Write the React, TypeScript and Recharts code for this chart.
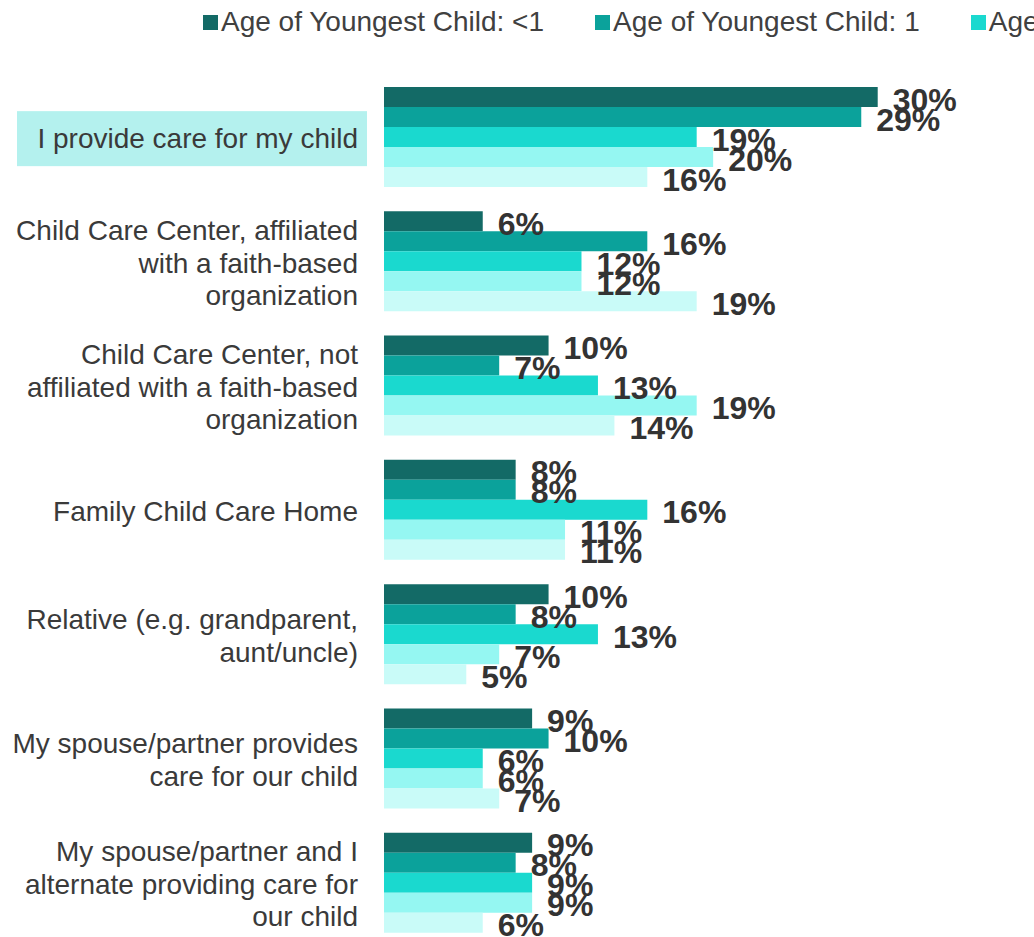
import React from "react";
import { BarChart, Bar, XAxis, YAxis, Legend, LabelList } from "recharts";

const CATEGORIES = [
  "I provide care for my child",
  "Child Care Center, affiliated\nwith a faith-based\norganization",
  "Child Care Center, not\naffiliated with a faith-based\norganization",
  "Family Child Care Home",
  "Relative (e.g. grandparent,\naunt/uncle)",
  "My spouse/partner provides\ncare for our child",
  "My spouse/partner and I\nalternate providing care for\nour child",
];

const SERIES_NAMES = [
  "Age of Youngest Child: <1",
  "Age of Youngest Child: 1",
  "Age of Youngest Child: 2",
  "Age of Youngest Child: 3",
  "Age of Youngest Child: 4",
];

const AGE_UNDER_1 = [30, 6, 10, 8, 10, 9, 9];
const AGE_1 = [29, 16, 7, 8, 8, 10, 8];
const AGE_2 = [19, 12, 13, 16, 13, 6, 9];
const AGE_3 = [20, 12, 19, 11, 7, 6, 9];
const AGE_4 = [16, 19, 14, 11, 5, 7, 6];

const SERIES_VALUES = [AGE_UNDER_1, AGE_1, AGE_2, AGE_3, AGE_4];
const COLORS = ["#136a66", "#0ba29b", "#1ad9cf", "#95f7f2", "#c9fbf8"];
const KEYS = ["s0", "s1", "s2", "s3", "s4"];

const data = CATEGORIES.map((name, i) => {
  const row: Record<string, any> = { name };
  SERIES_VALUES.forEach((vals, s) => {
    row[KEYS[s]] = vals[i];
  });
  return row;
});

const FONT = "'Liberation Sans', Arial, sans-serif";
const LINE_H = 32.5;

const CategoryTick = (props: any) => {
  const { x, y, payload } = props;
  const label: string = payload.value;
  const lines = label.split("\n");
  const y0 = y - ((lines.length - 1) * LINE_H) / 2;
  const highlighted = label === CATEGORIES[0];
  return (
    <g>
      {highlighted && (
        <rect x={x - 341} y={y - 27} width={350} height={55} fill="#b4f1ee" />
      )}
      <text
        x={x}
        y={y0}
        textAnchor="end"
        fontSize={28}
        fontFamily={FONT}
        fill="#3a3a3a"
      >
        {lines.map((ln, i) => (
          <tspan key={i} x={x} y={y0 + i * LINE_H} dy="0.36em">
            {ln}
          </tspan>
        ))}
      </text>
    </g>
  );
};

const ValueLabel = (props: any) => {
  const { x, y, width, height, value } = props;
  if (value == null) return null;
  return (
    <text
      x={x + width + 15}
      y={y + height / 2 + 2}
      dy="0.36em"
      textAnchor="start"
      fontSize={32}
      fontWeight="bold"
      fontFamily={FONT}
      fill="#333333"
    >
      {`${value}%`}
    </text>
  );
};

const renderLegend = () => (
  <div style={{ position: "relative", height: 40, width: 1034, overflow: "hidden" }}>
    <div
      style={{
        position: "absolute",
        left: 203,
        top: 2,
        height: 40,
        display: "flex",
        alignItems: "center",
        whiteSpace: "nowrap",
        fontFamily: FONT,
        fontSize: 28,
        color: "#404040",
      }}
    >
      {SERIES_NAMES.map((n, i) => (
        <div key={n} style={{ display: "flex", alignItems: "center", marginRight: 51 }}>
          <span
            style={{
              display: "inline-block",
              width: 15,
              height: 15,
              background: COLORS[i],
              marginRight: 3,
            }}
          />
          <span>{n}</span>
        </div>
      ))}
    </div>
  </div>
);

export default function App() {
  return (
    <div
      style={{
        position: "fixed",
        left: 0,
        top: 0,
        width: 1034,
        height: 937,
        overflow: "hidden",
        background: "#ffffff",
      }}
    >
      <BarChart
        width={1034}
        height={950}
        data={data}
        layout="vertical"
        margin={{ top: 36, right: 74, left: 0, bottom: 4 }}
        barGap={0}
        barCategoryGap={11}
        style={{ fontFamily: FONT }}
      >
        <XAxis type="number" domain={[0, 35]} hide />
        <YAxis
          type="category"
          dataKey="name"
          width={384}
          axisLine={false}
          tickLine={false}
          tickSize={0}
          tickMargin={26}
          interval={0}
          tick={<CategoryTick />}
        />
        <Legend
          verticalAlign="top"
          align="left"
          content={renderLegend}
          wrapperStyle={{ top: 0, left: 0, width: 1034, height: 40 }}
        />
        {KEYS.map((k, i) => (
          <Bar
            key={k}
            dataKey={k}
            name={SERIES_NAMES[i]}
            fill={COLORS[i]}
            isAnimationActive={false}
          >
            <LabelList dataKey={k} content={<ValueLabel />} />
          </Bar>
        ))}
      </BarChart>
    </div>
  );
}
